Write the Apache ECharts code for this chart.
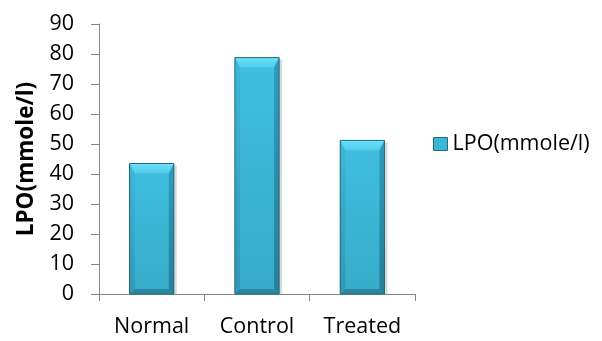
<!DOCTYPE html>
<html>
<head>
<meta charset="utf-8">
<script src="https://cdn.jsdelivr.net/npm/echarts@6/dist/echarts.min.js"></script>
<style>
  html, body { margin: 0; padding: 0; background: #fff; }
  #chart { width: 602px; height: 341px; }
</style>
</head>
<body>
<div id="chart"></div>
<script>
// Lipid peroxidation by group
const categories = ['Normal', 'Control', 'Treated'];
const lpoValues = [43.5, 78.8, 51.2];
const seriesName = 'LPO(mmole/l)';
const yTicks = { min: 0, max: 90, interval: 10 };

const FONT = '"Open Sans", "Liberation Sans", sans-serif';

// Bevelled column: a flat face with lit top, shaded sides and a drop shadow
function renderBevelBar(params, api) {
  const idx = api.value(0);
  const val = api.value(1);
  const top = api.coord([idx, val]);
  const base = api.coord([idx, 0]);
  const bandW = api.size([1, 0])[0];
  const w = bandW * 0.42;
  const x0 = top[0] - w / 2, x1 = top[0] + w / 2;
  const y0 = top[1], y1 = base[1];
  const b = Math.min(10, (y1 - y0) / 3);
  const s = 5;
  return {
    type: 'group',
    children: [
      { type: 'rect', shape: { x: x0 + 2, y: y0 + 2, width: w + 1, height: y1 - y0 - 2 },
        style: { fill: 'rgba(0,0,0,0.15)' }, z2: 0 },
      { type: 'rect', shape: { x: x0, y: y0, width: w, height: y1 - y0 },
        style: { fill: new echarts.graphic.LinearGradient(0, 0, 0, 1, [
          { offset: 0, color: '#40bee0' }, { offset: 1, color: '#37abc9' }]) }, z2: 1 },
      // top bevel
      { type: 'polygon', shape: { points: [[x0, y0], [x1, y0], [x1 - s, y0 + b], [x0 + s, y0 + b]] },
        style: { fill: new echarts.graphic.LinearGradient(0, 0, 0, 1, [
          { offset: 0, color: '#6ce0f7' }, { offset: 1, color: '#4fcbea' }]) }, z2: 2 },
      // left bevel
      { type: 'polygon', shape: { points: [[x0, y0], [x0 + s, y0 + b], [x0 + s, y1 - s], [x0, y1]] },
        style: { fill: new echarts.graphic.LinearGradient(0, 0, 0, 1, [
          { offset: 0, color: '#3fb6d8' }, { offset: 1, color: '#2f98b5' }]) }, z2: 2 },
      // right bevel
      { type: 'polygon', shape: { points: [[x1, y0], [x1 - s, y0 + b], [x1 - s, y1 - s], [x1, y1]] },
        style: { fill: new echarts.graphic.LinearGradient(0, 0, 0, 1, [
          { offset: 0, color: '#2e9cbd' }, { offset: 1, color: '#267f98' }]) }, z2: 2 },
      // bottom bevel
      { type: 'polygon', shape: { points: [[x0, y1], [x0 + s, y1 - s], [x1 - s, y1 - s], [x1, y1]] },
        style: { fill: '#2b879f' }, z2: 2 },
      { type: 'rect', shape: { x: x0, y: y0, width: w, height: y1 - y0 },
        style: { fill: 'none', stroke: '#1f6a80', lineWidth: 1 }, z2: 3 }
    ]
  };
}

const chart = echarts.init(document.getElementById('chart'), null, { renderer: 'canvas' });
chart.setOption({
  animation: false,
  backgroundColor: '#ffffff',
  grid: { left: 99, right: 187, top: 24, bottom: 47, containLabel: false },
  legend: {
    data: [{ name: seriesName, icon: 'rect', itemStyle: { color: '#3cb6d6', borderColor: '#1f6a80', borderWidth: 1 } }],
    left: 428, top: 128,
    itemWidth: 14, itemHeight: 13, itemGap: 6,
    textStyle: { fontFamily: FONT, fontSize: 21.5, color: '#000' }
  },
  xAxis: {
    type: 'category',
    data: categories,
    boundaryGap: true,
    axisLine: { lineStyle: { color: '#868686', width: 1 } },
    axisTick: { show: true, length: 7, alignWithLabel: false, lineStyle: { color: '#868686' } },
    axisLabel: { margin: 22, fontFamily: FONT, fontSize: 21.5, color: '#000' },
    splitLine: { show: false }
  },
  yAxis: {
    type: 'value',
    min: yTicks.min, max: yTicks.max, interval: yTicks.interval,
    name: seriesName,
    nameLocation: 'middle',
    nameGap: 60,
    nameRotate: 90,
    nameTextStyle: { fontFamily: FONT, fontSize: 22.5, fontWeight: 'bold', color: '#000' },
    axisLine: { show: true, lineStyle: { color: '#868686', width: 1 } },
    axisTick: { show: true, length: 8, lineStyle: { color: '#868686' } },
    axisLabel: { margin: 25, fontFamily: FONT, fontSize: 21.5, color: '#000' },
    splitLine: { show: false }
  },
  series: [{
    name: seriesName,
    type: 'custom',
    renderItem: renderBevelBar,
    encode: { x: 0, y: 1 },
    data: lpoValues.map((v, i) => [i, v])
  }]
});
</script>
</body>
</html>
